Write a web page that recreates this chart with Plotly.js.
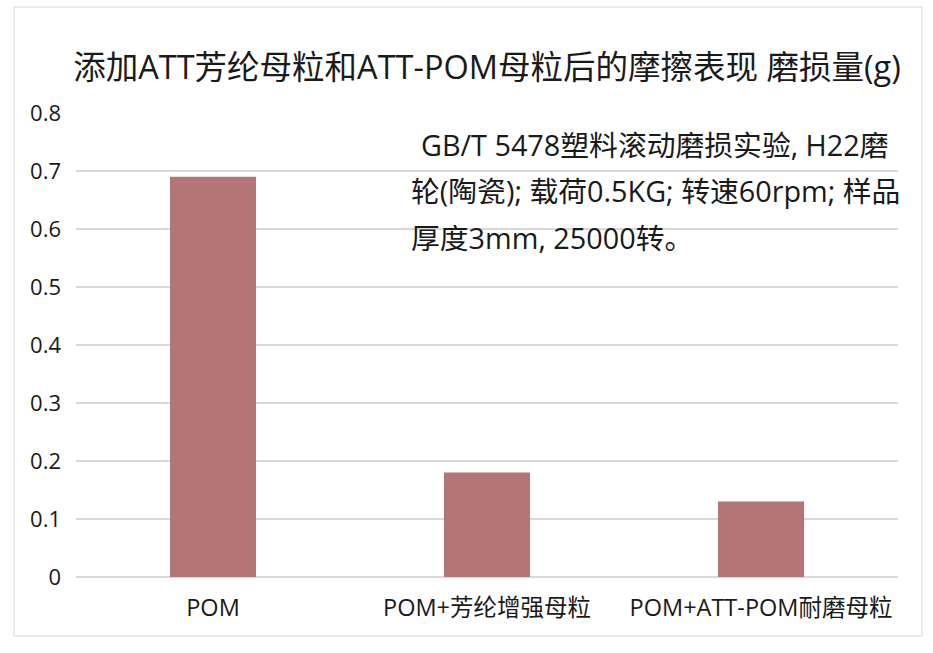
<!DOCTYPE html>
<html>
<head>
<meta charset="utf-8">
<script src="https://cdn.plot.ly/plotly-3.0.1.min.js"></script>
<style>
html,body{margin:0;padding:0;background:#fff;}
#chart{width:933px;height:653px;}
</style>
</head>
<body>
<div id="chart"></div>
<script>
var categories = ["POM", "POM+芳纶增强母粒", "POM+ATT-POM耐磨母粒"];
var wearLoss = [0.69, 0.18, 0.13];
var yTicks = [0, 0.1, 0.2, 0.3, 0.4, 0.5, 0.6, 0.7, 0.8];
var yTickLabels = ["0", "0.1", "0.2", "0.3", "0.4", "0.5", "0.6", "0.7", "0.8"];
var titleText = "添加ATT芳纶母粒和ATT-POM母粒后的摩擦表现 磨损量(g)";
var noteLines = [
  "GB/T 5478塑料滚动磨损实验, H22磨",
  "轮(陶瓷); 载荷0.5KG; 转速60rpm; 样品",
  "厚度3mm, 25000转。"
];

var FONT = '"Open Sans", "Noto Sans CJK SC", sans-serif';

var trace = {
  type: 'bar',
  x: categories,
  y: wearLoss,
  width: 0.314,
  marker: {color: '#b47576'},
  hoverinfo: 'x+y'
};

var noteX = [0.4173, 0.405, 0.405];
var noteY = [0.933, 0.832, 0.7326];
var annotations = noteLines.map(function(t, i){
  return {
    text: t, xref: 'paper', yref: 'paper', x: noteX[i], y: noteY[i],
    xanchor: 'left', yanchor: 'middle', showarrow: false, align: 'left',
    font: {family: FONT, size: 28.8, color: '#1a1a1a'}
  };
});

var layout = {
  width: 933, height: 653,
  margin: {l: 76, r: 35, t: 113, b: 76},
  paper_bgcolor: '#ffffff', plot_bgcolor: '#ffffff',
  font: {family: FONT, color: '#1a1a1a'},
  title: {
    text: titleText,
    font: {family: FONT, size: 32.5, color: '#1a1a1a'},
    xref: 'paper', x: 0.5, xanchor: 'center',
    yref: 'container', y: 0.896, yanchor: 'middle'
  },
  xaxis: {
    type: 'category',
    tickfont: {family: FONT, size: 23.5, color: '#1a1a1a'},
    showgrid: false, zeroline: false, showline: false,
    ticks: '', ticklen: 0, ticklabelstandoff: 14
  },
  yaxis: {
    range: [0, 0.8],
    tickvals: yTicks, ticktext: yTickLabels,
    tickfont: {family: FONT, size: 22, color: '#1a1a1a'},
    showgrid: true, gridcolor: '#d9d9d9', gridwidth: 2,
    zeroline: true, zerolinecolor: '#d9d9d9', zerolinewidth: 2,
    showline: false, ticks: '', ticklabelstandoff: 14
  },
  bargap: 0.686,
  showlegend: false,
  annotations: annotations,
  shapes: [{
    type: 'rect', xref: 'paper', yref: 'paper',
    x0: -0.0754, x1: 1.0292, y0: -0.127, y1: 1.2284,
    line: {color: '#d9d9d9', width: 1}, fillcolor: 'rgba(0,0,0,0)', layer: 'below'
  }]
};

Plotly.newPlot('chart', [trace], layout, {displayModeBar: false, staticPlot: true});
</script>
</body>
</html>
